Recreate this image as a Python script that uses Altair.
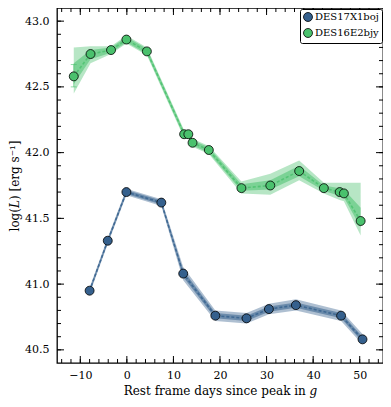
import altair as alt
import pandas as pd
import numpy as np

# --- data ---
names = ["DES17X1boj", "DES16E2bjy"]
colors = ["#35608d", "#4ac16d"]

x_blue = [-8.0, -4.1, -0.1, 7.4, 12.1, 19.0, 25.7, 30.5, 36.3, 46.0, 50.6]
y_blue = [40.95, 41.33, 41.70, 41.62, 41.08, 40.76, 40.74, 40.81, 40.84, 40.76, 40.58]
blue_outer_lo = [40.925, 41.305, 41.675, 41.595, 41.03, 40.72, 40.70, 40.77, 40.80, 40.72, 40.54]
blue_outer_hi = [40.975, 41.355, 41.725, 41.645, 41.13, 40.80, 40.78, 40.85, 40.885, 40.80, 40.62]
blue_inner_lo = [40.935, 41.315, 41.685, 41.605, 41.055, 40.74, 40.72, 40.79, 40.82, 40.74, 40.56]
blue_inner_hi = [40.965, 41.345, 41.715, 41.635, 41.105, 40.78, 40.76, 40.83, 40.86, 40.78, 40.60]

x_green = [-11.4, -7.8, -3.4, -0.1, 4.3, 12.3, 13.2, 14.1, 17.6, 24.6, 30.8, 37.0, 42.3, 45.7, 46.6, 50.2]
y_green = [42.58, 42.75, 42.78, 42.86, 42.77, 42.14, 42.14, 42.075, 42.02, 41.73, 41.75, 41.86, 41.73, 41.70, 41.69, 41.48]
green_outer_lo = [42.45, 42.68, 42.75, 42.83, 42.74, 42.11, 42.11, 42.045, 41.99, 41.69, 41.68, 41.79, 41.69, 41.64, 41.63, 41.37]
green_outer_hi = [42.80, 42.81, 42.81, 42.89, 42.80, 42.17, 42.17, 42.105, 42.05, 41.78, 41.84, 41.94, 41.77, 41.77, 41.77, 41.77]
green_inner_lo = [42.52, 42.71, 42.76, 42.84, 42.75, 42.12, 42.12, 42.055, 42.0, 41.71, 41.72, 41.82, 41.71, 41.67, 41.66, 41.43]
green_inner_hi = [42.68, 42.78, 42.80, 42.88, 42.79, 42.16, 42.16, 42.095, 42.04, 41.76, 41.79, 41.90, 41.75, 41.73, 41.72, 41.58]

err_x = [-11.4]
err_lo = [42.50]
err_hi = [42.67]

x_major = [-10, 0, 10, 20, 30, 40, 50]
x_minor = list(range(-14, 56, 2))
y_major = [40.5, 41.0, 41.5, 42.0, 42.5, 43.0]
y_minor = [round(v, 1) for v in np.arange(40.5, 43.05, 0.1)]

W, H = 326, 355
XDOM = [-15, 55]
YDOM = [40.4, 43.1]
FONT = "DejaVu Serif"

xs = alt.Scale(domain=XDOM, nice=False, zero=False)
ys = alt.Scale(domain=YDOM, nice=False, zero=False)
cs = alt.Scale(domain=names, range=colors)

band_layers = []
pts_rows = []
for n, col, xv, yv, olo, ohi, ilo, ihi in [
    (names[0], colors[0], x_blue, y_blue, blue_outer_lo, blue_outer_hi, blue_inner_lo, blue_inner_hi),
    (names[1], colors[1], x_green, y_green, green_outer_lo, green_outer_hi, green_inner_lo, green_inner_hi),
]:
    d = pd.DataFrame(dict(x=xv, y=yv, olo=olo, ohi=ohi, ilo=ilo, ihi=ihi))
    b = alt.Chart(d)
    band_layers.append(b.mark_area(opacity=0.4, color=col).encode(
        x=alt.X("x:Q", scale=xs), y=alt.Y("olo:Q", scale=ys), y2="ohi:Q"))
    band_layers.append(b.mark_area(opacity=0.55, color=col).encode(
        x=alt.X("x:Q", scale=xs), y=alt.Y("ilo:Q", scale=ys), y2="ihi:Q"))
    band_layers.append(b.mark_line(strokeWidth=1.6, strokeDash=[3, 2], opacity=0.8, color=col).encode(
        x=alt.X("x:Q", scale=xs), y=alt.Y("y:Q", scale=ys)))
    for i in range(len(xv)):
        pts_rows.append(dict(series=n, x=xv[i], y=yv[i]))
pts = pd.DataFrame(pts_rows)

edf = pd.DataFrame(dict(x=err_x, lo=err_lo, hi=err_hi))
err = alt.Chart(edf).mark_rule(color=colors[1], opacity=0.6, strokeWidth=1).encode(
    x=alt.X("x:Q", scale=xs), y=alt.Y("lo:Q", scale=ys), y2="hi:Q")
cap_lo = alt.Chart(edf).mark_tick(color=colors[1], opacity=0.6, thickness=1, size=6, orient="horizontal").encode(
    x=alt.X("x:Q", scale=xs), y=alt.Y("lo:Q", scale=ys))
cap_hi = alt.Chart(edf).mark_tick(color=colors[1], opacity=0.6, thickness=1, size=6, orient="horizontal").encode(
    x=alt.X("x:Q", scale=xs), y=alt.Y("hi:Q", scale=ys))

points = alt.Chart(pts).mark_circle(size=80, stroke="black", strokeWidth=0.8, opacity=1).encode(
    x=alt.X("x:Q", scale=xs, axis=alt.Axis(values=x_major, ticks=False, domain=False, grid=False,
                                           title="Rest frame days since peak in 𝑔", labelPadding=6,
                                           titlePadding=5, format="d")),
    y=alt.Y("y:Q", scale=ys, axis=alt.Axis(values=y_major, ticks=False, domain=False, grid=False,
                                           title="log(𝐿) [erg s⁻¹]", labelPadding=8, titlePadding=3,
                                           format=".1f")),
    color=alt.Color("series:N", scale=cs,
                    legend=alt.Legend(title=None, orient="top-right", offset=1,
                                      labelFont=FONT, labelFontSize=10, labelColor="black",
                                      strokeColor="black", fillColor="white", padding=3,
                                      cornerRadius=2, symbolSize=80, symbolStrokeColor="black",
                                      symbolStrokeWidth=0.8, symbolType="circle",
                                      rowPadding=2, labelOffset=2)))

def xticks(vals, length):
    d = pd.DataFrame(dict(v=vals))
    top = alt.Chart(d).mark_rule(color="black", strokeWidth=1).encode(
        x=alt.X("v:Q", scale=xs), y=alt.value(0), y2=alt.value(length))
    bot = alt.Chart(d).mark_rule(color="black", strokeWidth=1).encode(
        x=alt.X("v:Q", scale=xs), y=alt.value(H), y2=alt.value(H - length))
    return [top, bot]

def yticks(vals, length):
    d = pd.DataFrame(dict(v=vals))
    left = alt.Chart(d).mark_rule(color="black", strokeWidth=1).encode(
        y=alt.Y("v:Q", scale=ys), x=alt.value(0), x2=alt.value(length))
    right = alt.Chart(d).mark_rule(color="black", strokeWidth=1).encode(
        y=alt.Y("v:Q", scale=ys), x=alt.value(W), x2=alt.value(W - length))
    return [left, right]

ticks = xticks(x_minor, 4) + xticks(x_major, 7) + yticks(y_minor, 4) + yticks(y_major, 7)

chart = alt.layer(*band_layers, err, cap_lo, cap_hi, *ticks, points).properties(
    width=W, height=H,
    autosize=alt.AutoSizeParams(type="none"),
    padding={"left": 49, "top": 0, "right": 0, "bottom": 40},
).configure_view(stroke="black", strokeWidth=1.3).configure_axis(
    labelFont=FONT, titleFont=FONT, labelFontSize=11, titleFontSize=12,
    labelColor="black", titleColor="black", titleFontWeight="normal",
)

chart.save("out.html", embed_options={"renderer": "svg", "actions": False})
